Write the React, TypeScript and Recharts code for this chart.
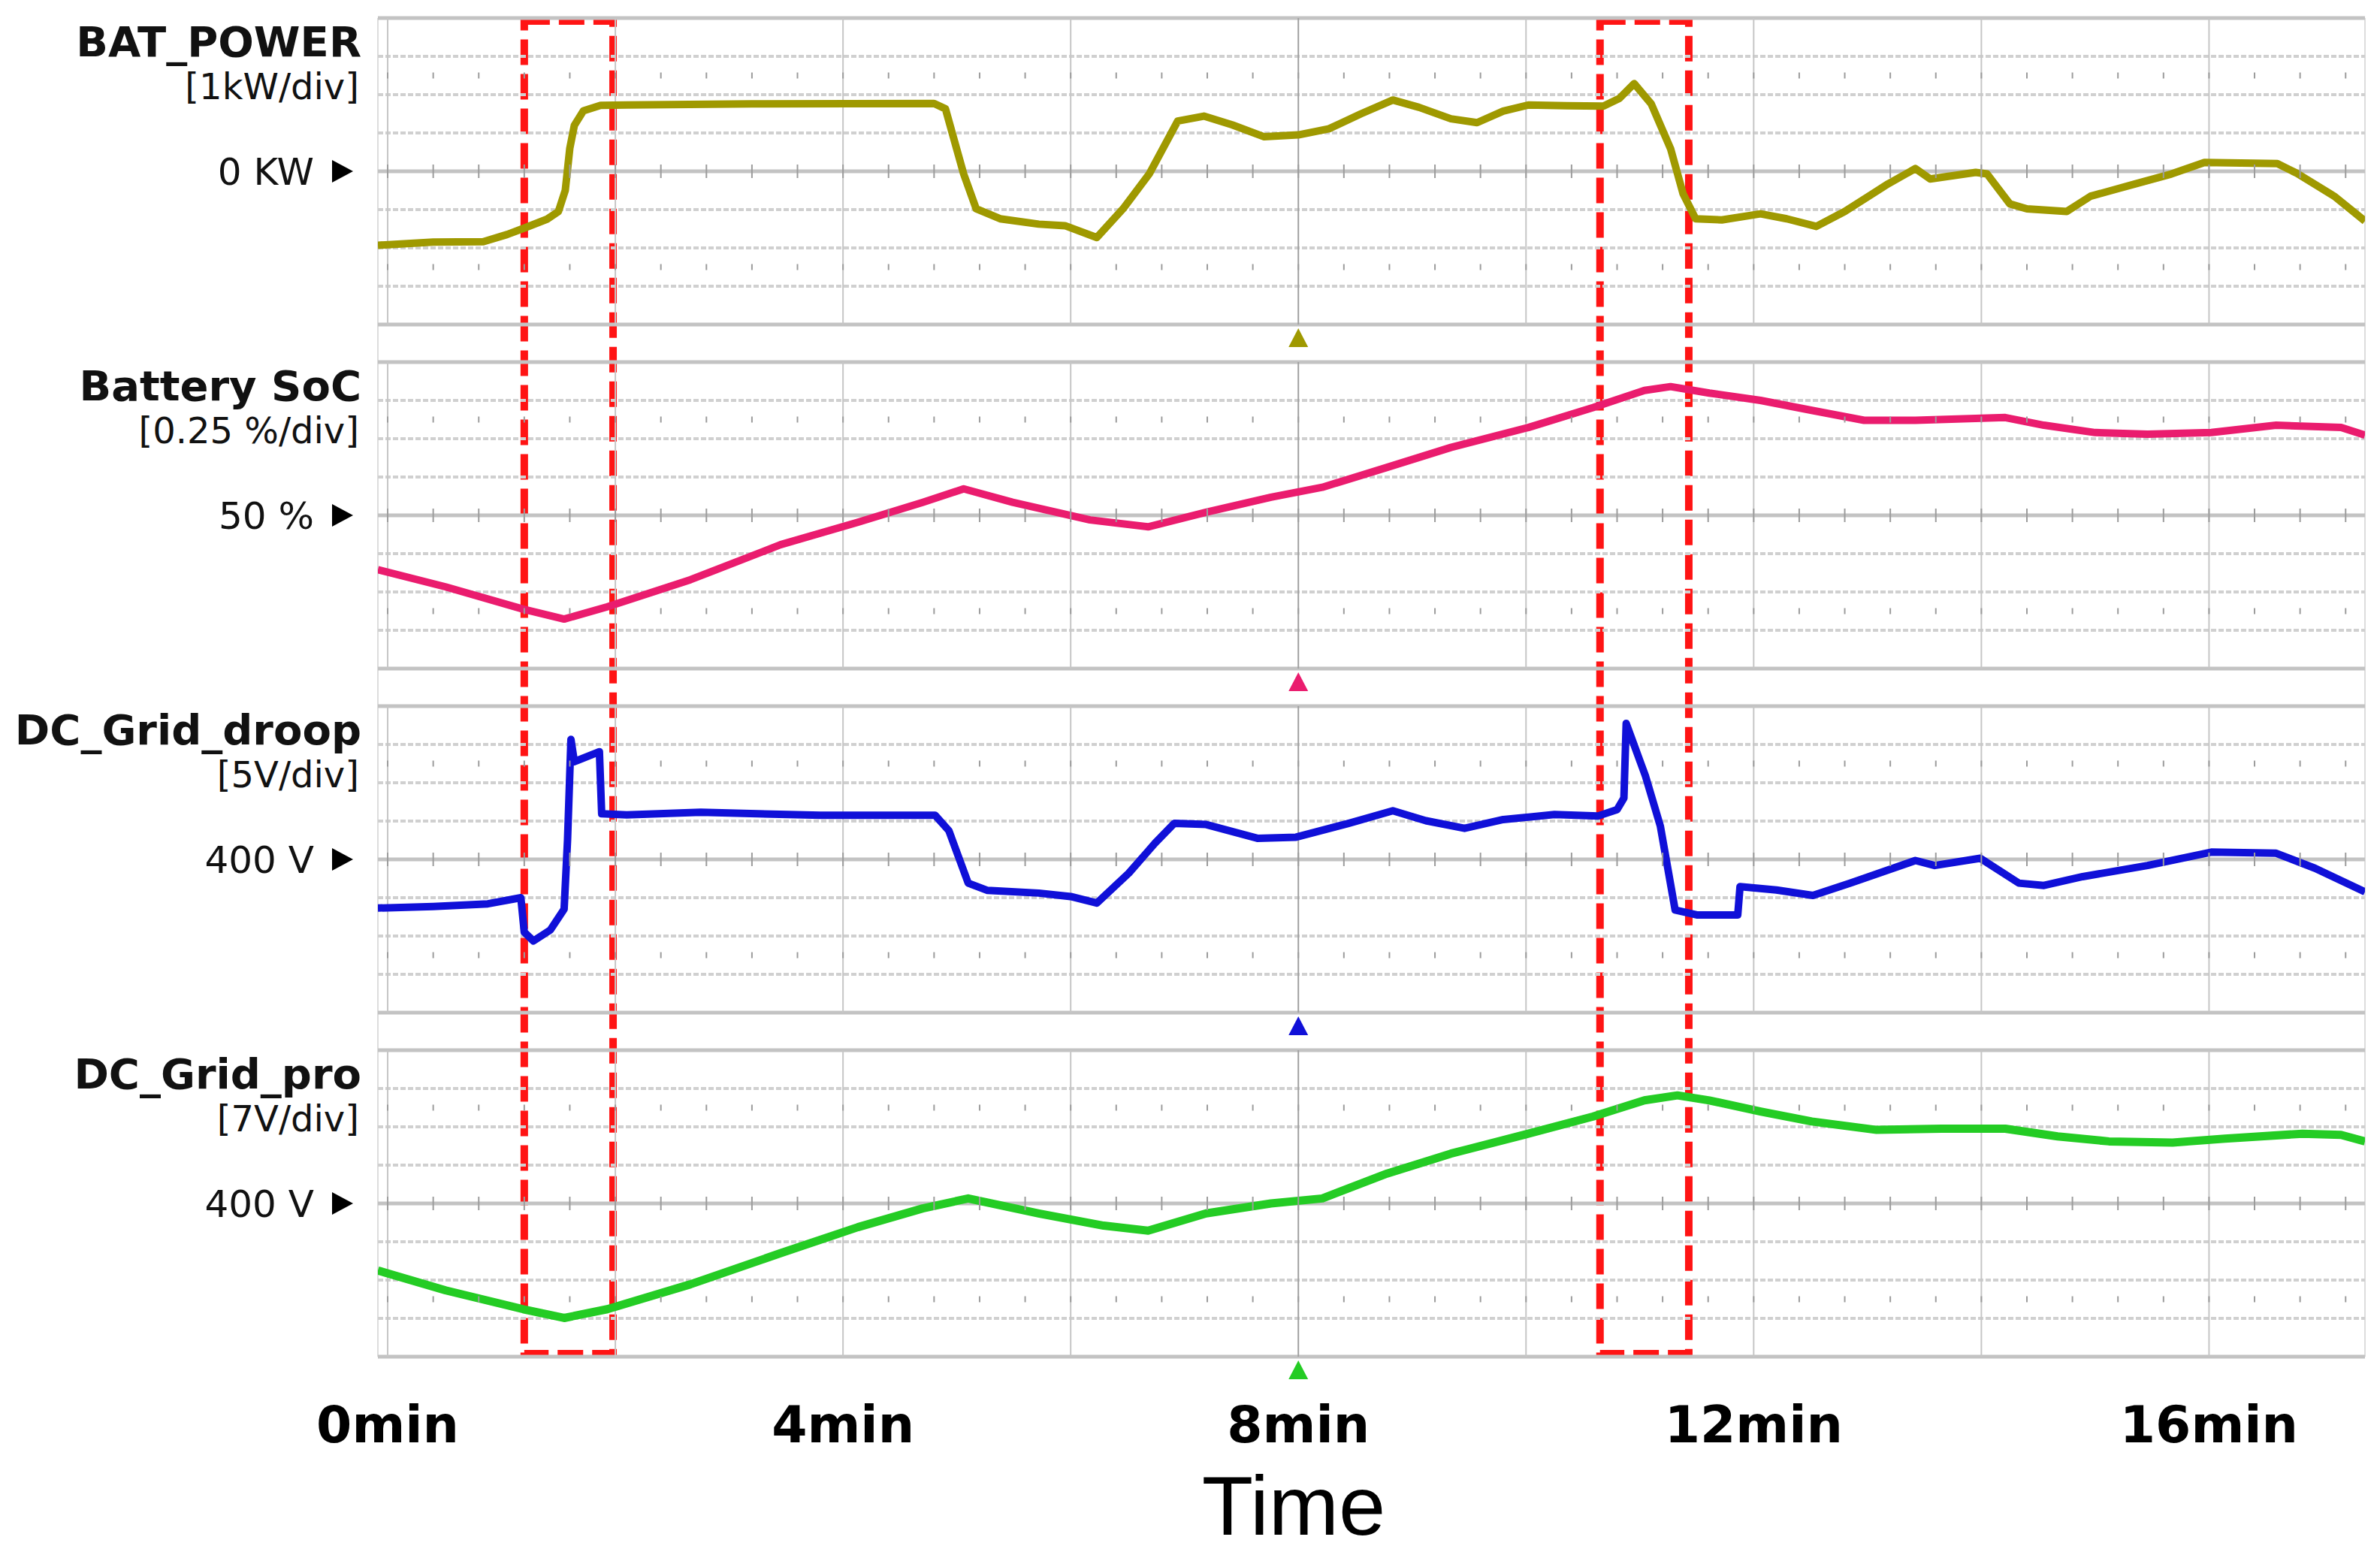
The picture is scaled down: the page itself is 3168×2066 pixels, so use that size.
import React from 'react';
import {
  ComposedChart,
  Line,
  XAxis,
  YAxis,
  ReferenceLine,
  ReferenceArea,
  ReferenceDot,
  Scatter,
} from 'recharts';

// ---------------- data ----------------
const batTime = [-0.086, 0.4, 0.84, 1.05, 1.21, 1.4, 1.5, 1.56, 1.6, 1.64, 1.72, 1.87, 2.1, 3.2, 4.8, 4.9, 5.06, 5.17, 5.38, 5.72, 5.95, 6.23, 6.46, 6.69, 6.94, 7.17, 7.42, 7.7, 8.0, 8.27, 8.55, 8.83, 9.06, 9.34, 9.57, 9.8, 10.02, 10.36, 10.68, 10.82, 10.95, 11.1, 11.27, 11.38, 11.49, 11.72, 12.06, 12.29, 12.55, 12.8, 13.18, 13.42, 13.55, 13.95, 14.05, 14.25, 14.4, 14.75, 14.96, 15.35, 15.67, 15.96, 16.6, 16.77, 17.1, 17.37];
const batPower = [-1.93, -1.85, -1.84, -1.65, -1.47, -1.25, -1.05, -0.5, 0.6, 1.2, 1.58, 1.72, 1.73, 1.76, 1.77, 1.63, -0.07, -0.98, -1.24, -1.38, -1.42, -1.73, -0.98, -0.07, 1.31, 1.44, 1.21, 0.9, 0.95, 1.11, 1.5, 1.86, 1.67, 1.37, 1.27, 1.57, 1.73, 1.71, 1.7, 1.9, 2.29, 1.76, 0.59, -0.59, -1.24, -1.27, -1.11, -1.24, -1.44, -1.05, -0.33, 0.07, -0.2, -0.03, -0.07, -0.85, -0.98, -1.05, -0.65, -0.33, -0.07, 0.23, 0.2, -0.05, -0.65, -1.3];

const socTime = [-0.086, 0.51, 1.19, 1.55, 1.93, 2.66, 3.45, 4.13, 4.7, 5.06, 5.49, 6.17, 6.68, 7.19, 7.76, 8.21, 8.78, 9.34, 10.02, 10.59, 11.04, 11.27, 11.61, 12.06, 12.51, 12.97, 13.42, 14.21, 14.55, 15.0, 15.46, 16.02, 16.59, 17.16, 17.37];
const socPercent = [49.645, 49.533, 49.388, 49.323, 49.403, 49.58, 49.808, 49.955, 50.085, 50.173, 50.085, 49.97, 49.925, 50.02, 50.118, 50.183, 50.313, 50.443, 50.573, 50.703, 50.815, 50.84, 50.798, 50.75, 50.685, 50.62, 50.62, 50.638, 50.588, 50.54, 50.53, 50.54, 50.588, 50.573, 50.523];

const droopTime = [-0.086, 0.4, 0.88, 1.17, 1.2, 1.28, 1.43, 1.55, 1.58, 1.61, 1.64, 1.86, 1.88, 2.1, 2.75, 3.8, 4.81, 4.93, 5.1, 5.27, 5.72, 6.0, 6.23, 6.51, 6.74, 6.91, 7.19, 7.64, 7.98, 8.44, 8.83, 9.12, 9.46, 9.8, 10.25, 10.63, 10.8, 10.86, 10.88, 11.05, 11.18, 11.31, 11.5, 11.86, 11.88, 12.2, 12.52, 12.85, 13.42, 13.59, 13.99, 14.33, 14.55, 14.89, 15.46, 16.02, 16.59, 16.93, 17.37];
const droopVoltage = [393.65, 393.85, 394.2, 395, 390.5, 389.35, 390.8, 393.5, 402.5, 415.65, 412.75, 414.05, 405.95, 405.8, 406.15, 405.75, 405.75, 403.75, 396.9, 395.95, 395.6, 395.15, 394.3, 398.2, 402.1, 404.7, 404.55, 402.75, 402.9, 404.7, 406.35, 405.05, 404.05, 405.2, 405.85, 405.65, 406.5, 408, 417.75, 410.85, 404.35, 393.4, 392.75, 392.75, 396.45, 396, 395.3, 396.9, 399.85, 399.2, 400.15, 396.9, 396.6, 397.75, 399.2, 400.95, 400.8, 398.85, 395.75];

const proTime = [-0.086, 0.51, 1.19, 1.55, 1.93, 2.66, 3.45, 4.13, 4.7, 5.1, 5.72, 6.29, 6.68, 7.19, 7.76, 8.21, 8.78, 9.34, 10.02, 10.59, 11.04, 11.33, 11.61, 12.06, 12.51, 13.08, 13.65, 14.21, 14.67, 15.12, 15.68, 16.14, 16.82, 17.16, 17.37];
const proVoltage = [387.75, 384.11, 380.68, 379.07, 380.68, 385.23, 390.9, 395.66, 399.09, 400.91, 398.18, 395.94, 395.03, 398.18, 400, 400.91, 405.46, 409.1, 412.74, 415.89, 418.83, 419.74, 418.83, 416.8, 414.98, 413.44, 413.65, 413.65, 412.25, 411.34, 411.13, 411.83, 412.74, 412.53, 411.34];

const xTickValues = [0, 4, 8, 12, 16];
const xTickLabels = ['0min', '4min', '8min', '12min', '16min'];
const gridTimes = [0, 2, 4, 6, 8, 10, 12, 14, 16];
const eventWindows = [
  [1.2, 1.98],
  [10.65, 11.43],
];
const triggerTime = 8;

const panelTitles = ['BAT_POWER', 'Battery SoC', 'DC_Grid_droop', 'DC_Grid_pro'];
const panelUnits = ['[1kW/div]', '[0.25 %/div]', '[5V/div]', '[7V/div]'];
const panelRefLabels = ['0 KW', '50 %', '400 V', '400 V'];
const panelRefValues = [0, 50, 400, 400];
const panelPerDiv = [1, 0.25, 5, 7];
const panelColors = ['#9f9900', '#ea1c6e', '#1010d8', '#24cc24'];

// ---------------- layout ----------------
const W = 3168;
const H = 2066;
const PLOT_TOP = 24;
const PLOT_BOTTOM = 1806;
const PLOT_LEFT = 503;
const PLOT_RIGHT = 3148;
const DIV_PX = 51;
const PANEL_PITCH = 458;
const XAXIS_H = 100;
const X_MIN = -0.086;
const X_MAX = 17.37;
const TICK_BASELINE = 1920;
const BOX_INSET_PX = 4;

const minorTimes = Array.from({ length: 44 }, (_, i) => Math.round(i * 4) / 10);

const toRows = (times: number[], values: number[]) => times.map((t, i) => ({ t, v: values[i] }));
const seriesRows = [
  toRows(batTime, batPower),
  toRows(socTime, socPercent),
  toRows(droopTime, droopVoltage),
  toRows(proTime, proVoltage),
];

const panels = panelTitles.map((title, k) => {
  const center = PLOT_TOP + 4 * DIV_PX + k * PANEL_PITCH;
  const ref = panelRefValues[k];
  const per = panelPerDiv[k];
  return {
    id: 'p' + k,
    k,
    title,
    unit: panelUnits[k],
    refLabel: panelRefLabels[k],
    ref,
    per,
    color: panelColors[k],
    centerPx: center,
    top: ref + (per * (center - PLOT_TOP)) / DIV_PX,
    bottom: ref - (per * (PLOT_BOTTOM - center)) / DIV_PX,
  };
});

const tickShape = (h: number) => (props: any) => (
  <line
    x1={props.cx}
    x2={props.cx}
    y1={props.cy - h / 2}
    y2={props.cy + h / 2}
    stroke="#9c9c9c"
    strokeWidth={2}
  />
);

const TimeTick = (props: any) => {
  const { x, payload } = props;
  const idx = xTickValues.indexOf(payload.value);
  return (
    <text
      x={x}
      y={TICK_BASELINE}
      textAnchor="middle"
      fontFamily="DejaVu Sans"
      fontWeight={700}
      fontSize={68}
      fill="#000"
    >
      {xTickLabels[idx]}
    </text>
  );
};

export default function App() {
  const elements: React.ReactNode[] = [];
  const p0 = panels[0];
  const boxTop = p0.top - (p0.per * BOX_INSET_PX) / DIV_PX;
  const boxBottom = p0.bottom + (p0.per * BOX_INSET_PX) / DIV_PX;

  elements.push(
    <ReferenceLine key="frameL" yAxisId="p0" x={X_MIN} stroke="#dddddd" strokeWidth={2} ifOverflow="visible" />,
    <ReferenceLine key="frameR" yAxisId="p0" x={X_MAX} stroke="#dddddd" strokeWidth={2} ifOverflow="visible" />
  );

  panels.forEach((p) => {
    for (let j = -4; j <= 4; j++) {
      const solid = j === -4 || j === 0 || j === 4;
      elements.push(
        <ReferenceLine
          key={`h-${p.id}-${j}`}
          yAxisId={p.id}
          y={p.ref + j * p.per}
          stroke={solid ? '#c3c3c3' : '#d0d0d0'}
          strokeWidth={solid ? 5 : 4}
          strokeDasharray={solid ? undefined : '7 3'}
          ifOverflow="visible"
        />
      );
    }
    gridTimes.forEach((t) => {
      elements.push(
        <ReferenceLine
          key={`v-${p.id}-${t}`}
          yAxisId={p.id}
          segment={[
            { x: t, y: p.ref + 4 * p.per },
            { x: t, y: p.ref - 4 * p.per },
          ]}
          stroke={t === triggerTime ? '#a0a0a0' : '#c6c6c6'}
          strokeWidth={2}
          ifOverflow="visible"
        />
      );
    });
  });

  panels.forEach((p) => {
    [
      { off: 0, h: 18 },
      { off: 2.5, h: 8 },
      { off: -2.5, h: 8 },
    ].forEach((row) => {
      elements.push(
        <Scatter
          key={`mt-${p.id}-${row.off}`}
          yAxisId={p.id}
          data={minorTimes.map((t) => ({ t, v: p.ref + row.off * p.per }))}
          dataKey="v"
          shape={tickShape(row.h)}
          isAnimationActive={false}
        />
      );
    });
  });

  panels.forEach((p) => {
    elements.push(
      <Line
        key={`line-${p.id}`}
        yAxisId={p.id}
        data={seriesRows[p.k]}
        dataKey="v"
        type="linear"
        stroke={p.color}
        strokeWidth={p.k === 3 ? 11 : 10}
        strokeLinejoin="round"
        dot={false}
        activeDot={false}
        isAnimationActive={false}
      />
    );
  });

  panels.forEach((p) => {
    elements.push(
      <ReferenceDot
        key={`trg-${p.id}`}
        yAxisId={p.id}
        x={triggerTime}
        y={p.ref - 4 * p.per}
        ifOverflow="visible"
        shape={(s: any) => (
          <polygon
            points={`${s.cx},${s.cy + 5} ${s.cx - 13},${s.cy + 30} ${s.cx + 13},${s.cy + 30}`}
            fill={p.color}
          />
        )}
      />
    );
  });

  eventWindows.forEach((w, i) => {
    elements.push(
      <ReferenceArea
        key={`ev-${i}`}
        yAxisId="p0"
        x1={w[0]}
        x2={w[1]}
        y1={boxBottom}
        y2={boxTop}
        fill="#ffffff"
        fillOpacity={0}
        stroke="#ff1414"
        strokeWidth={10}
        strokeDasharray="34 12"
        ifOverflow="visible"
      />
    );
  });

  return (
    <div style={{ position: 'absolute', left: 0, top: 0, width: W, height: H, background: '#ffffff' }}>
      <ComposedChart
        width={W}
        height={H}
        margin={{ top: PLOT_TOP, right: W - PLOT_RIGHT, bottom: H - PLOT_BOTTOM - XAXIS_H, left: PLOT_LEFT }}
      >
        <XAxis
          dataKey="t"
          type="number"
          domain={[X_MIN, X_MAX]}
          allowDataOverflow
          ticks={xTickValues}
          interval={0}
          tick={<TimeTick />}
          tickLine={false}
          axisLine={false}
          height={XAXIS_H}
        />
        {panels.map((p) => (
          <YAxis
            key={`y-${p.id}`}
            yAxisId={p.id}
            type="number"
            domain={[p.bottom, p.top]}
            allowDataOverflow
            hide
          />
        ))}
        {elements}
      </ComposedChart>
      <svg
        width={W}
        height={H}
        style={{ position: 'absolute', left: 0, top: 0, pointerEvents: 'none' }}
      >
        {panels.map((p) => (
          <g key={`lbl-${p.id}`} fontFamily="DejaVu Sans" fill="#111">
            <text x={481} y={p.centerPx - 153} textAnchor="end" fontSize={56} fontWeight={700}>
              {p.title}
            </text>
            <text x={478} y={p.centerPx - 96} textAnchor="end" fontSize={48}>
              {p.unit}
            </text>
            <text x={418} y={p.centerPx + 18} textAnchor="end" fontSize={50}>
              {p.refLabel}
            </text>
            <polygon
              points={`${442},${p.centerPx - 15} ${442},${p.centerPx + 15} ${470},${p.centerPx}`}
              fill="#000"
            />
          </g>
        ))}
        <text x={1722} y={2043} textAnchor="middle" fontFamily="Liberation Sans" fontSize={112} fill="#000">
          Time
        </text>
      </svg>
    </div>
  );
}
